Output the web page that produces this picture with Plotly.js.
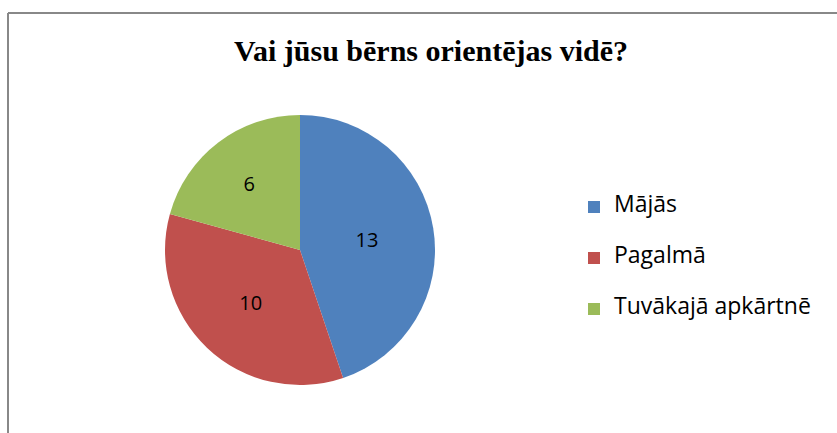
<!DOCTYPE html>
<html>
<head>
<meta charset="utf-8">
<script src="https://cdn.plot.ly/plotly-3.0.1.min.js"></script>
<style>html,body{margin:0;padding:0;background:#fff;}#chart{width:837px;height:433px;}</style>
</head>
<body>
<div id="chart"></div>
<script>
const categories = ["Mājās", "Pagalmā", "Tuvākajā apkārtnē"];
const values = [13, 10, 6];
const colors = ["#4F81BD", "#C0504D", "#9BBB59"];
const titleText = "Vai jūsu bērns orientējas vidē?";

const W = 837, H = 433;
const legendLabels = categories.map(c => "\u00a0<br><span style='font-size:23px'>" + c + "</span><br>\u00a0");

const trace = {
  type: "pie",
  labels: legendLabels,
  values: values,
  sort: false,
  direction: "clockwise",
  rotation: 0,
  marker: { colors: colors, line: { width: 0 } },
  textinfo: "value",
  textposition: "inside",
  insidetextorientation: "horizontal",
  textfont: { family: "Open Sans, sans-serif", size: 20, color: "#000" },
  hoverinfo: "value",
  domain: { x: [165 / W, 435 / W], y: [1 - 385 / H, 1 - 115 / H] }
};

const layout = {
  width: W, height: H,
  margin: { l: 0, r: 0, t: 0, b: 0 },
  paper_bgcolor: "#fff",
  title: {
    text: "<b>" + titleText + "</b>",
    font: { family: "Liberation Serif, Times New Roman, serif", size: 30, color: "#000" },
    x: 0.515, xanchor: "center",
    y: 1 - 50 / H, yanchor: "middle"
  },
  showlegend: true,
  legend: {
    x: 574 / W, xanchor: "left",
    y: 1 - 258 / H, yanchor: "middle",
    font: { family: "Open Sans, sans-serif", size: 12.3, color: "#000" },
    itemsizing: "constant"
  },
  shapes: [
    { type: "line", xref: "paper", yref: "paper", x0: 8 / W, x1: 8 / W, y0: 0, y1: 1 - 13 / H, line: { color: "#888", width: 2 } },
    { type: "line", xref: "paper", yref: "paper", x0: 8 / W, x1: 1, y0: 1 - 13 / H, y1: 1 - 13 / H, line: { color: "#888", width: 2 } }
  ]
};

Plotly.newPlot("chart", [trace], layout, { displayModeBar: false, staticPlot: true });
</script>
</body>
</html>
